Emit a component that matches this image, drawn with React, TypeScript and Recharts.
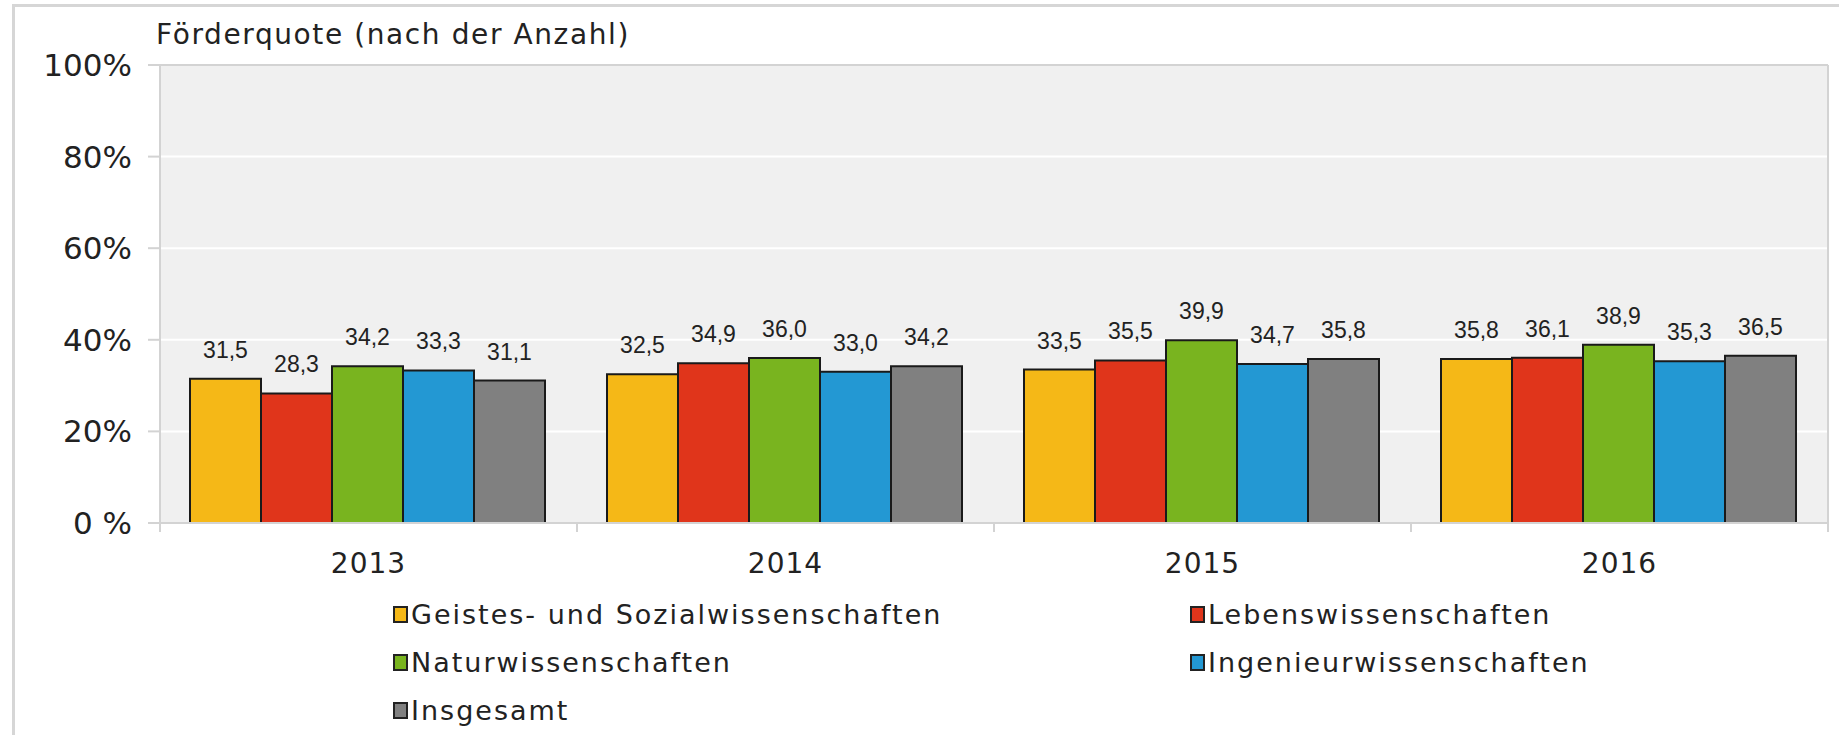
import { Bar, BarChart, CartesianGrid, LabelList, Legend, ReferenceLine, XAxis, YAxis } from "recharts";

const years = ["2013", "2014", "2015", "2016"];
const geistes = [31.5, 32.5, 33.5, 35.8];
const lebens = [28.3, 34.9, 35.5, 36.1];
const natur = [34.2, 36.0, 39.9, 38.9];
const ingenieur = [33.3, 33.0, 34.7, 35.3];
const insgesamt = [31.1, 34.2, 35.8, 36.5];
const yTicks = [0, 20, 40, 60, 80, 100];

const series = [
  { key: "geistes", name: "Geistes- und Sozialwissenschaften", color: "#f5b817", values: geistes },
  { key: "lebens", name: "Lebenswissenschaften", color: "#e0351b", values: lebens },
  { key: "natur", name: "Naturwissenschaften", color: "#79b41f", values: natur },
  { key: "ingenieur", name: "Ingenieurwissenschaften", color: "#2398d3", values: ingenieur },
  { key: "insgesamt", name: "Insgesamt", color: "#808080", values: insgesamt },
];

const data = years.map((year, i) => {
  const row: Record<string, string | number> = { year };
  series.forEach((s) => {
    row[s.key] = s.values[i];
  });
  return row;
});

const FONT = "'DejaVu Sans', Verdana, sans-serif";
const LINE = "#d3d3d3";

function formatValue(v: unknown) {
  return Number(v).toFixed(1).replace(".", ",");
}

function YearTick(props: any) {
  const { x, y, payload, index } = props;
  const half = payload?.offset ?? 208.5;
  return (
    <g>
      <line x1={x - half} x2={x - half} y1={y - 9} y2={y} stroke={LINE} strokeWidth={2} />
      {index === years.length - 1 && (
        <line x1={x + half} x2={x + half} y1={y - 9} y2={y} stroke={LINE} strokeWidth={2} />
      )}
      <text x={x} y={y} dy={41} textAnchor="middle" fill="#222" fontSize={28} letterSpacing={1} fontFamily={FONT}>
        {payload.value}
      </text>
    </g>
  );
}

// legend keeps the series order (two columns, filled row by row)
function renderLegend() {
  return (
    <div
      style={{
        display: "grid",
        gridTemplateColumns: "797px auto",
        gridAutoRows: "48px",
        paddingLeft: 393,
        fontFamily: FONT,
        fontSize: 27,
        color: "#222",
        letterSpacing: 2,
        whiteSpace: "nowrap",
      }}
    >
      {series.map((s) => (
        <div key={s.key} style={{ display: "flex", alignItems: "center" }}>
          <span
            style={{
              width: 11,
              height: 13,
              background: s.color,
              border: "2px solid #222",
              marginRight: 3,
              boxSizing: "content-box",
            }}
          />
          {s.name}
        </div>
      ))}
    </div>
  );
}

export default function App() {
  return (
    <div style={{ position: "absolute", left: 0, top: 0, width: 1839, height: 735, background: "#fff", overflow: "hidden" }}>
      <div
        style={{
          position: "absolute",
          left: 12,
          top: 4,
          width: 2000,
          height: 1000,
          borderLeft: "3px solid #d6d6d6",
          borderTop: "3px solid #d6d6d6",
        }}
      />
      <div
        style={{
          position: "absolute",
          left: 156,
          top: 18,
          fontFamily: FONT,
          fontSize: 28,
          letterSpacing: 1.6,
          color: "#222",
          whiteSpace: "nowrap",
        }}
      >
        Förderquote (nach der Anzahl)
      </div>
      <BarChart
        width={1839}
        height={735}
        data={data}
        margin={{ top: 65, right: 0, left: 0, bottom: 152 }}
        barCategoryGap={30}
        barGap={0}
        style={{ position: "absolute", left: 0, top: 0 }}
      >
        <CartesianGrid vertical={false} fill="#f0f0f0" stroke="#ffffff" strokeWidth={2} />
        <XAxis
          dataKey="year"
          height={60}
          tickLine={false}
          tickSize={9}
          tickMargin={0}
          axisLine={{ stroke: LINE, strokeWidth: 2 }}
          tick={<YearTick />}
          interval={0}
        />
        <YAxis
          width={160}
          domain={[0, 100]}
          ticks={yTicks}
          interval={0}
          tickSize={12}
          tickMargin={16}
          axisLine={{ stroke: LINE, strokeWidth: 2 }}
          tickLine={{ stroke: LINE, strokeWidth: 2 }}
          tickFormatter={(v: number) => (v === 0 ? "0 %" : `${v}%`)}
          tick={{ fill: "#222", fontSize: 31, fontFamily: FONT }}
        />
        <YAxis yAxisId="right" orientation="right" width={11} tick={false} tickLine={false} axisLine={{ stroke: LINE, strokeWidth: 2 }} />
        <ReferenceLine y={100} stroke={LINE} strokeWidth={2} />
        {series.map((s) => (
          <Bar key={s.key} dataKey={s.key} name={s.name} fill={s.color} stroke="#1a1a1a" strokeWidth={2} isAnimationActive={false}>
            <LabelList
              dataKey={s.key}
              position="top"
              offset={21}
              formatter={formatValue}
              fill="#222"
              fontSize={23}
              fontFamily="'Liberation Sans', Arial, sans-serif"
            />
          </Bar>
        ))}
        <Legend
          verticalAlign="middle"
          layout="horizontal"
          content={renderLegend}
          wrapperStyle={{ left: 0, top: 590, width: 1839 }}
        />
      </BarChart>
    </div>
  );
}
